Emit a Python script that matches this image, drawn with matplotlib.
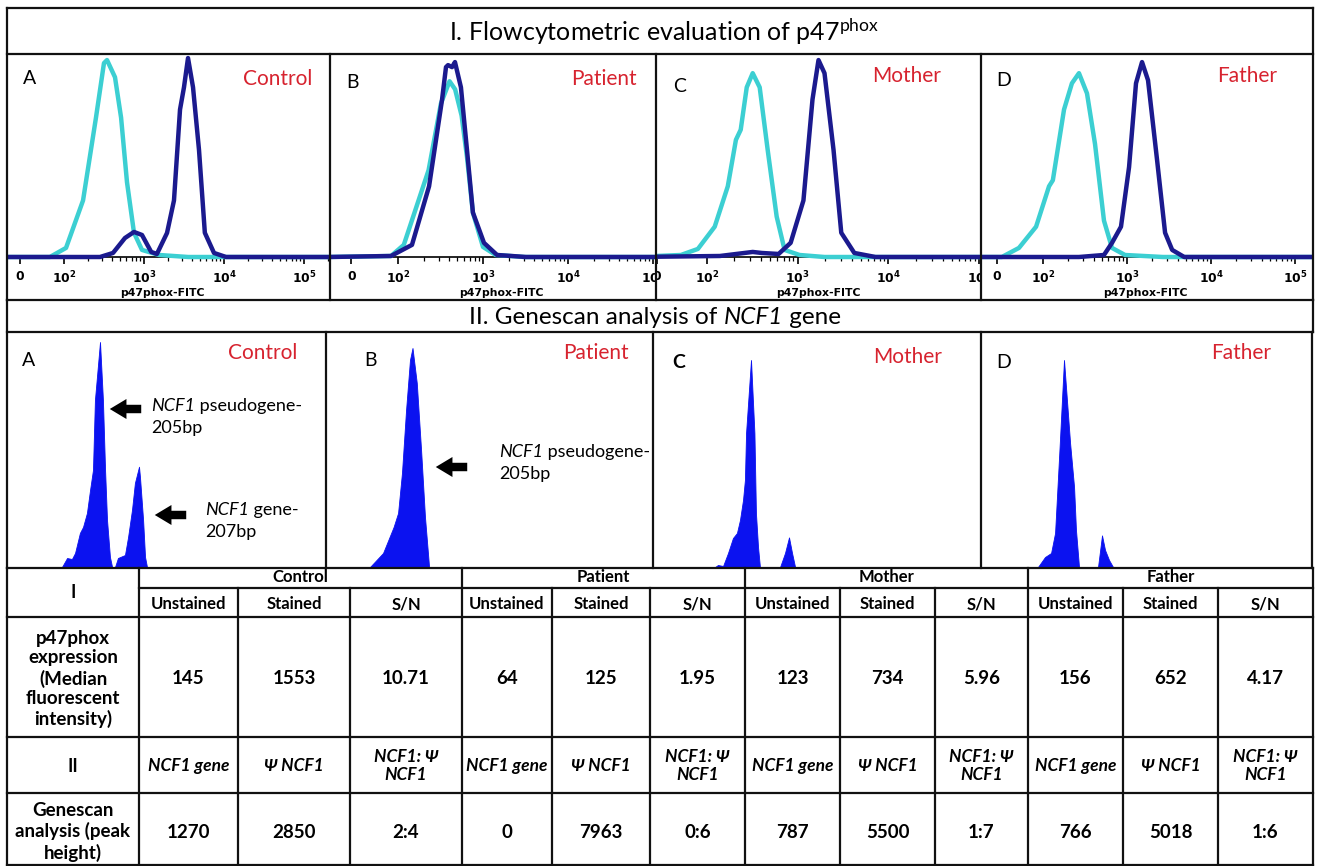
import numpy as np
import matplotlib
matplotlib.use("Agg")
import matplotlib.pyplot as plt
from matplotlib.ticker import SymmetricalLogLocator
from matplotlib.transforms import Bbox, TransformedBbox

plt.rcParams['font.family'] = ['Lato', 'DejaVu Sans']
plt.rcParams['mathtext.fontset'] = 'custom'
plt.rcParams['mathtext.rm'] = 'Lato'
plt.rcParams['mathtext.it'] = 'Lato:italic'
plt.rcParams['mathtext.bf'] = 'DejaVu Sans:bold'

# ---------------------------------------------------------------- data
samples = ['Control', 'Patient', 'Mother', 'Father']
letters = ['A', 'B', 'C', 'D']

flow_ticks = [0, 1e2, 1e3, 1e4, 1e5]
flow_tick_labels = ['0', r'$\mathbf{10^{2}}$', r'$\mathbf{10^{3}}$',
                    r'$\mathbf{10^{4}}$', r'$\mathbf{10^{5}}$']
flow_xlabel = 'p47phox-FITC'

# flow histograms: p47phox-FITC intensity vs % of mode (unstained = cyan, stained = navy)
ctrl_unst_x = [-50, 68, 106, 173, 251, 316, 345, 434, 517, 613, 750, 944, 1540, 3570, 300000]
ctrl_unst_y = [0, 0, 4.5, 28, 69, 96, 97.5, 89, 69, 37, 12, 3.5, 1, 0, 0]
ctrl_st_x = [-50, 282, 410, 578, 750, 944, 1230, 1450, 1940, 2370, 2820, 3160, 3550, 4100,
             4870, 5760, 7500, 10600, 300000]
ctrl_st_y = [0, 0, 2, 9.4, 12.4, 10.9, 2.5, 1.5, 11.9, 28, 73, 84, 98.5, 84, 53, 12, 2, 0, 0]

pat_unst_x = [-50, 85, 117, 229, 320, 404, 470, 560, 648, 760, 1000, 1410, 3090, 300000]
pat_unst_y = [0, 0.5, 6, 43, 76, 87, 83, 70, 49.5, 22, 5, 1, 0, 0]
pat_st_x = [-50, 85, 146, 232, 330, 367, 388, 432, 468, 550, 648, 761, 1027, 1463, 3200, 300000]
pat_st_y = [0, 0.5, 6, 35, 78, 94, 95, 94, 96.5, 84, 53, 22, 7, 1, 0, 0]

mot_unst_x = [-50, 48, 82, 122, 170, 209, 236, 275, 320, 382, 468, 588, 719, 1050, 1980, 300000]
mot_unst_y = [0, 1, 4, 15, 35, 58, 63, 84, 91, 84, 53, 20, 3.5, 1, 0, 0]
mot_st_x = [-50, 139, 320, 402, 617, 838, 1160, 1460, 1700, 1980, 2490, 3030, 4220, 7220, 300000]
mot_st_y = [0, 0.5, 2.5, 2, 1.5, 7, 28, 78, 97.5, 91, 53, 12, 2, 0, 0]

fat_unst_x = [-50, 11, 48, 85, 118, 131, 178, 221, 268, 334, 416, 532, 663, 946, 2680, 300000]
fat_unst_y = [0, 0, 4.5, 15, 35, 38, 73, 86, 91, 81, 56, 18, 4.5, 1, 0, 0]
fat_st_x = [-50, 268, 532, 663, 848, 1058, 1280, 1510, 1780, 2280, 2840, 3450, 4800, 300000]
fat_st_y = [0, 0, 1, 7, 15, 44.5, 86, 96.5, 87.5, 48, 12, 3.5, 0, 0]

# genescan traces: fragment size (bp) vs peak height (RFU)
ctrl_bp = [203.05, 203.31, 203.56, 203.72, 203.97, 204.13, 204.33, 204.49, 204.64, 204.74,
           205.0, 205.15, 205.26, 205.36, 205.51, 205.62, 205.77, 205.92, 206.28, 206.44,
           206.64, 206.79, 207.0, 207.05, 207.21, 207.31, 207.41]
ctrl_rfu = [0, 114, 101, 177, 431, 507, 684, 976, 1229, 2116, 2850, 2116, 1229, 596, 127, 0,
            0, 114, 152, 380, 722, 1064, 1270, 1140, 596, 127, 0]
pat_bp = [202.82, 203.49, 204.03, 204.26, 204.46, 204.67, 204.87, 205.0, 205.22, 205.44,
          205.64, 205.85]
pat_rfu = [0, 509, 1454, 1963, 3418, 5709, 7527, 7963, 6690, 4254, 1818, 0]
mot_bp = [203.11, 203.26, 203.53, 203.79, 204.05, 204.26, 204.42, 204.58, 204.68, 204.74,
          205.0, 205.18, 205.26, 205.37, 205.47, 206.53, 206.79, 207.0, 207.16, 207.32]
mot_rfu = [0, 53, 27, 372, 770, 903, 1249, 1780, 2312, 3560, 5500, 3560, 1435, 531, 0, 0,
           372, 787, 372, 0]
fat_bp = [203.63, 204.0, 204.32, 204.53, 204.76, 205.0, 205.32, 205.53, 205.63, 205.79,
          206.79, 207.0, 207.16, 207.37, 207.58]
fat_rfu = [0, 242, 339, 824, 2836, 5018, 3006, 1939, 897, 0, 0, 766, 412, 170, 0]

# table values
sub_headers = ['Unstained', 'Stained', 'S/N']
mfi_unstained = [145, 64, 123, 156]
mfi_stained = [1553, 125, 734, 652]
mfi_sn = [10.71, 1.95, 5.96, 4.17]
gene_headers = ['NCF1 gene', 'Ψ NCF1', 'NCF1: Ψ\nNCF1']
gene_peak = [1270, 0, 787, 766]
pseudo_peak = [2850, 7963, 5500, 5018]
peak_ratio = ['2:4', '0:6', '1:7', '1:6']
row_titles = ['I', 'p47phox\nexpression\n(Median\nfluorescent\nintensity)', 'II',
              'Genescan\nanalysis (peak\nheight)']

flow_data = [(ctrl_unst_x, ctrl_unst_y, ctrl_st_x, ctrl_st_y),
             (pat_unst_x, pat_unst_y, pat_st_x, pat_st_y),
             (mot_unst_x, mot_unst_y, mot_st_x, mot_st_y),
             (fat_unst_x, fat_unst_y, fat_st_x, fat_st_y)]
gs_data = [(ctrl_bp, ctrl_rfu), (pat_bp, pat_rfu), (mot_bp, mot_rfu), (fat_bp, fat_rfu)]

# ---------------------------------------------------------------- style / layout
CYAN = '#3ccfd2'
NAVY = '#1b1a8e'
BLUE = '#0b12f0'
RED = '#d7232f'
LINE = '#111111'

W, H = 1319, 866
fig = plt.figure(figsize=(W / 100, H / 100), dpi=100)


def px_axes(x0, y0, x1, y1):
    return fig.add_axes([x0 / W, 1 - y1 / H, (x1 - x0) / W, (y1 - y0) / H])


def fig_clip(x0, y0, x1, y1):
    return TransformedBbox(Bbox.from_extents(x0 / W, 1 - y1 / H, x1 / W, 1 - y0 / H),
                           fig.transFigure)


# ---- flow cytometry panels
LIN = 100.0
R = 0.55
flow_cells = [(7, 330), (330, 656), (656, 981), (981, 1313)]
flow_p2 = [64, 398, 706, 1043]
flow_dw = [80, 85, 91, 84]


def px_to_val(px, p2, dw):
    if px >= p2:
        return LIN * 10 ** ((px - p2) / dw)
    p0 = p2 - R * dw
    return LIN * (px - p0) / (R * dw)


top_px, base_px, ymin = 55, 257, -3
ppu = (base_px - top_px) / 100.0
for i in range(4):
    x0, x1 = flow_cells[i]
    ax = px_axes(x0 + 1, top_px, x1 - 1, base_px - ymin * ppu)
    ax.set_xscale('symlog', base=10, linthresh=LIN, linscale=0.9 * R)
    ax.set_xlim(px_to_val(x0 + 1, flow_p2[i], flow_dw[i]),
                px_to_val(x1 - 1, flow_p2[i], flow_dw[i]))
    ax.set_ylim(ymin, 100)
    ux, uy, sx, sy = flow_data[i]
    ax.plot(ux, uy, color=CYAN, lw=3.2, zorder=3, solid_joinstyle='round')
    ax.plot(sx, sy, color=NAVY, lw=3.2, zorder=4, solid_joinstyle='round')
    ax.patch.set_alpha(0)
    for s in ['top', 'left', 'right']:
        ax.spines[s].set_visible(False)
    ax.spines['bottom'].set_position(('data', 0))
    ax.spines['bottom'].set_linewidth(1.2)
    ax.set_xticks(flow_ticks, flow_tick_labels)
    ax.xaxis.set_minor_locator(SymmetricalLogLocator(base=10, linthresh=LIN,
                                                      subs=np.arange(2, 10)))
    ax.tick_params(axis='x', which='major', direction='out', length=5, width=1.2,
                   pad=4.5, labelsize=8.8)
    ax.tick_params(axis='x', which='minor', direction='out', length=3, width=0.9)
    ax.tick_params(axis='y', left=False, labelleft=False)
    clip = fig_clip(x0 + 1, 54, x1 - 1, 300)
    for lbl in ax.get_xticklabels():
        lbl.set_fontfamily('DejaVu Sans')
        lbl.set_fontweight('bold')
        lbl.set_clip_box(clip)
        lbl.set_clip_on(True)

# ---- genescan panels
gs_cells = [(7, 326), (326, 653), (653, 981), (981, 1312)]
gs_apex_px = [100, 412.5, 751, 1064]
gs_apex_py = [342, 348, 360, 360]
gs_px_per_bp = [19.5, 19.5, 19.0, 19.0]
gs_top, gs_base = 333, 567
for i in range(4):
    x0, x1 = gs_cells[i]
    ax = px_axes(x0, gs_top, x1, gs_base)
    ppb = gs_px_per_bp[i]
    ax.set_xlim(205 + (x0 - gs_apex_px[i]) / ppb, 205 + (x1 - gs_apex_px[i]) / ppb)
    ax.set_ylim(0, pseudo_peak[i] * (gs_base - gs_top) / (gs_base - gs_apex_py[i]))
    bp, rfu = gs_data[i]
    ax.fill_between(bp, rfu, 0, color=BLUE, lw=0.6)
    ax.axis('off')

# ---- overlay: frames, titles, table
lay = fig.add_axes([0, 0, 1, 1], facecolor='none')
lay.set_xlim(0, W)
lay.set_ylim(H, 0)
lay.axis('off')


def hl(y, xa, xb, lw=1.6):
    lay.plot([xa, xb], [y, y], color=LINE, lw=lw, solid_capstyle='projecting')


def vl(x, ya, yb, lw=1.6):
    lay.plot([x, x], [ya, yb], color=LINE, lw=lw, solid_capstyle='projecting')


def rich(x, y, parts, fontsize, **kw):
    """Left-aligned run of text pieces; each part is (string, fontstyle)."""
    prev = lay.text(x, y, parts[0][0], ha='left', va='baseline', fontsize=fontsize,
                    fontstyle=parts[0][1], **kw)
    for txt, style in parts[1:]:
        prev = lay.annotate(txt, xy=(1, 0), xycoords=prev, ha='left', va='bottom',
                            fontsize=fontsize, fontstyle=style, **kw)
    return prev


# title box I
hl(8, 7, 1313); hl(54, 7, 1313)
vl(7, 8, 300); vl(1313, 8, 300)
for xb in [330, 656, 981]:
    vl(xb, 54, 300)
hl(300, 7, 1313)
lay.text(664, 32, r'I. Flowcytometric evaluation of p47$^{\mathrm{phox}}$', ha='center',
         va='center', fontsize=18)

# section II box
hl(332, 7, 1313)
vl(7, 300, 568); vl(1313, 300, 332); vl(1312, 332, 568)
for xb in [326, 653, 981]:
    vl(xb, 332, 568)
rich(469, 324, [('II. Genescan analysis of ', 'normal'), ('NCF1', 'italic'),
                (' gene', 'normal')], 17.5)

# flow panel annotations
flow_letter_pos = [(30, 79), (353, 82), (680, 87), (1004, 80)]
flow_name_pos = [(278, 79), (604, 79), (907, 76), (1247, 76)]
flow_xlabel_x = [162, 501, 818, 1145]
for i in range(4):
    lay.text(*flow_letter_pos[i], letters[i], ha='center', va='center', fontsize=14)
    lay.text(*flow_name_pos[i], samples[i], ha='center', va='center', fontsize=15, color=RED)
    lay.text(flow_xlabel_x[i], 293.5, flow_xlabel, ha='center', va='center', fontsize=7.8,
             fontweight='bold', family='DejaVu Sans')

# genescan panel annotations
gs_letter_pos = [(29, 360), (370, 361), (679, 362), (1004, 363)]
gs_name_pos = [(263, 353), (596, 353), (908, 357), (1241, 353)]
for i in range(4):
    lay.text(*gs_letter_pos[i], letters[i], ha='center', va='center', fontsize=14,
             fontweight='bold' if i == 2 else 'normal')
    lay.text(*gs_name_pos[i], samples[i], ha='center', va='center', fontsize=15, color=RED)

arrow_kw = dict(arrowstyle='simple,head_length=0.75,head_width=0.9,tail_width=0.38',
                color='black', lw=0, mutation_scale=16)
for (hx, hy, tx) in [(107, 409, 144), (152, 515, 189), (433, 467, 470)]:
    lay.annotate('', xy=(hx, hy), xytext=(tx, hy), arrowprops=arrow_kw)
rich(151, 411, [('NCF1', 'italic'), (' pseudogene-', 'normal')], 13)
lay.text(151, 433, '205bp', ha='left', va='baseline', fontsize=13)
rich(205, 515, [('NCF1', 'italic'), (' gene-', 'normal')], 13)
lay.text(205, 537, '207bp', ha='left', va='baseline', fontsize=13)
rich(499, 457, [('NCF1', 'italic'), (' pseudogene-', 'normal')], 13)
lay.text(499, 479, '205bp', ha='left', va='baseline', fontsize=13)

# table
col_edges = [7, 139, 238, 350, 462, 552, 650, 745, 840, 935, 1028, 1123, 1218, 1313]
for y in [568, 617, 737, 793, 865]:
    hl(y, 7, 1313)
hl(588, 139, 1313)
for x in [7, 139, 462, 745, 1028, 1313]:
    vl(x, 568, 865)
for x in [238, 350, 552, 650, 840, 935, 1123, 1218]:
    vl(x, 588, 865)

c0 = (col_edges[0] + col_edges[1]) / 2
tkw = dict(ha='center', va='center', fontweight='bold')
lay.text(c0, 592, row_titles[0], fontsize=13, **tkw)
lay.text(c0, 679, row_titles[1], fontsize=13.5, linespacing=1.2, **tkw)
lay.text(c0, 767, row_titles[2], fontsize=13, **tkw)
lay.text(c0, 832, row_titles[3], fontsize=13.5, linespacing=1.2, **tkw)

for g in range(4):
    xa = col_edges[1 + 3 * g]
    xb = col_edges[4 + 3 * g]
    lay.text((xa + xb) / 2, 577, samples[g], fontsize=12, **tkw)
    centers = [(col_edges[1 + 3 * g + k] + col_edges[2 + 3 * g + k]) / 2 for k in range(3)]
    vals2 = [str(mfi_unstained[g]), str(mfi_stained[g]), f'{mfi_sn[g]:.2f}']
    vals4 = [str(gene_peak[g]), str(pseudo_peak[g]), peak_ratio[g]]
    for k in range(3):
        lay.text(centers[k], 604, sub_headers[k], fontsize=12, **tkw)
        lay.text(centers[k], 679, vals2[k], fontsize=13.5, **tkw)
        lay.text(centers[k], 766, gene_headers[k], fontsize=12.5, fontstyle='italic',
                 linespacing=1.2, **tkw)
        lay.text(centers[k], 832, vals4[k], fontsize=13.5, **tkw)

fig.savefig('out.png', dpi=100)
